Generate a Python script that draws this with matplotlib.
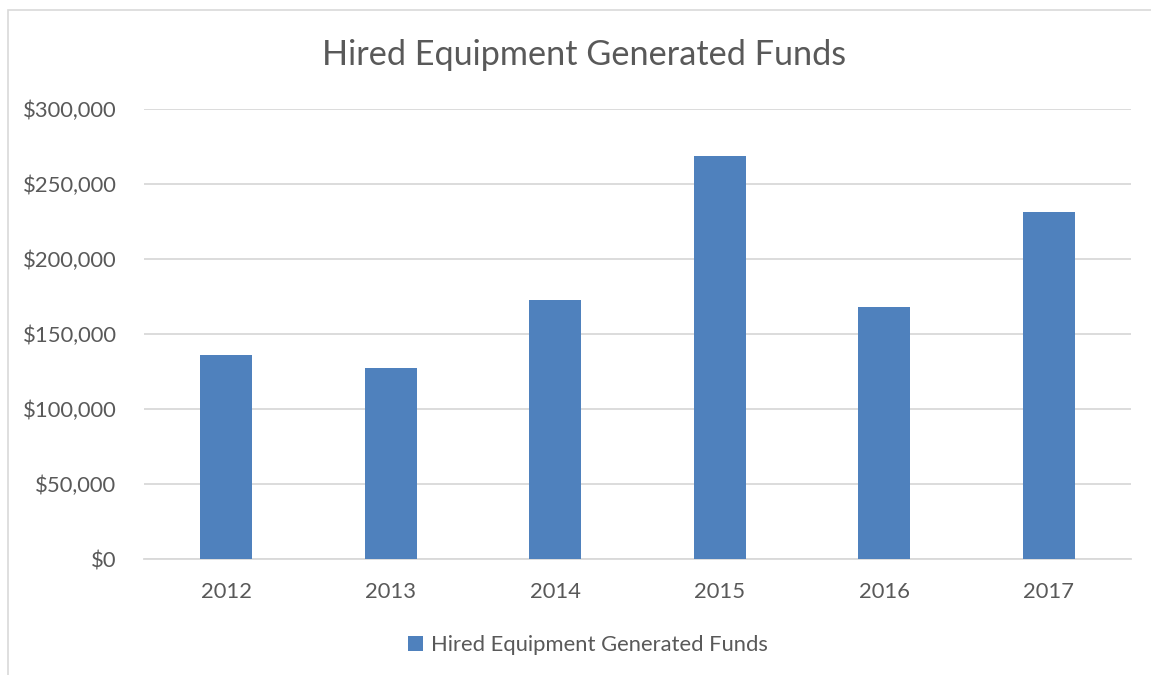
import matplotlib
matplotlib.use("Agg")
import matplotlib.pyplot as plt
from matplotlib.patches import Rectangle
from matplotlib.ticker import FuncFormatter

years = ["2012", "2013", "2014", "2015", "2016", "2017"]
funds = [136000, 127700, 172900, 268900, 168000, 231500]
series_name = "Hired Equipment Generated Funds"
title = "Hired Equipment Generated Funds"
yticks = [0, 50000, 100000, 150000, 200000, 250000, 300000]

plt.rcParams['font.family'] = ['Lato', 'DejaVu Sans']
TXT = '#595959'
BAR = '#4F81BD'
GRID = '#D9D9D9'

W, H = 1151, 675
fig = plt.figure(figsize=(W / 100, H / 100), dpi=100)
fig.patch.set_facecolor('white')

# chart border (left and top visible)
fig.patches.append(Rectangle((8 / W, -0.1), 1.2, (H - 10) / H + 0.1,
                             transform=fig.transFigure, fill=False,
                             edgecolor='#D9D9D9', linewidth=1.2))

left, right = 144.25, 1131
top, bottom = 109, 559.3
ax = fig.add_axes([left / W, 1 - bottom / H, (right - left) / W, (bottom - top) / H])
x = range(len(years))
ax.bar(x, funds, width=0.316, color=BAR, zorder=3, label=series_name)
ax.set_xlim(-0.5, len(years) - 0.5)
ax.set_ylim(0, 300000)
ax.set_yticks(yticks)
ax.yaxis.set_major_formatter(FuncFormatter(lambda v, p: "${:,.0f}".format(v)))
ax.set_xticks(list(x))
ax.set_xticklabels(years)
ax.grid(axis='y', color=GRID, linewidth=1.3, zorder=0)
for s in ['top', 'right', 'left']:
    ax.spines[s].set_visible(False)
ax.spines['bottom'].set_color(GRID)
ax.spines['bottom'].set_linewidth(1.3)
ax.tick_params(axis='both', length=0, labelsize=15.8, colors=TXT)
ax.tick_params(axis='y', pad=20)
ax.tick_params(axis='x', pad=16)

fig.text(584 / W, 1 - 55 / H, title, ha='center', va='center', fontsize=24.7, color=TXT)

leg = ax.legend(loc='center', bbox_to_anchor=(588 / W, 1 - 645 / H),
                bbox_transform=fig.transFigure, frameon=False, fontsize=15.8,
                handlelength=0.7, handleheight=0.7, handletextpad=0.35)
for t in leg.get_texts():
    t.set_color(TXT)

fig.savefig("out.png", dpi=100)
